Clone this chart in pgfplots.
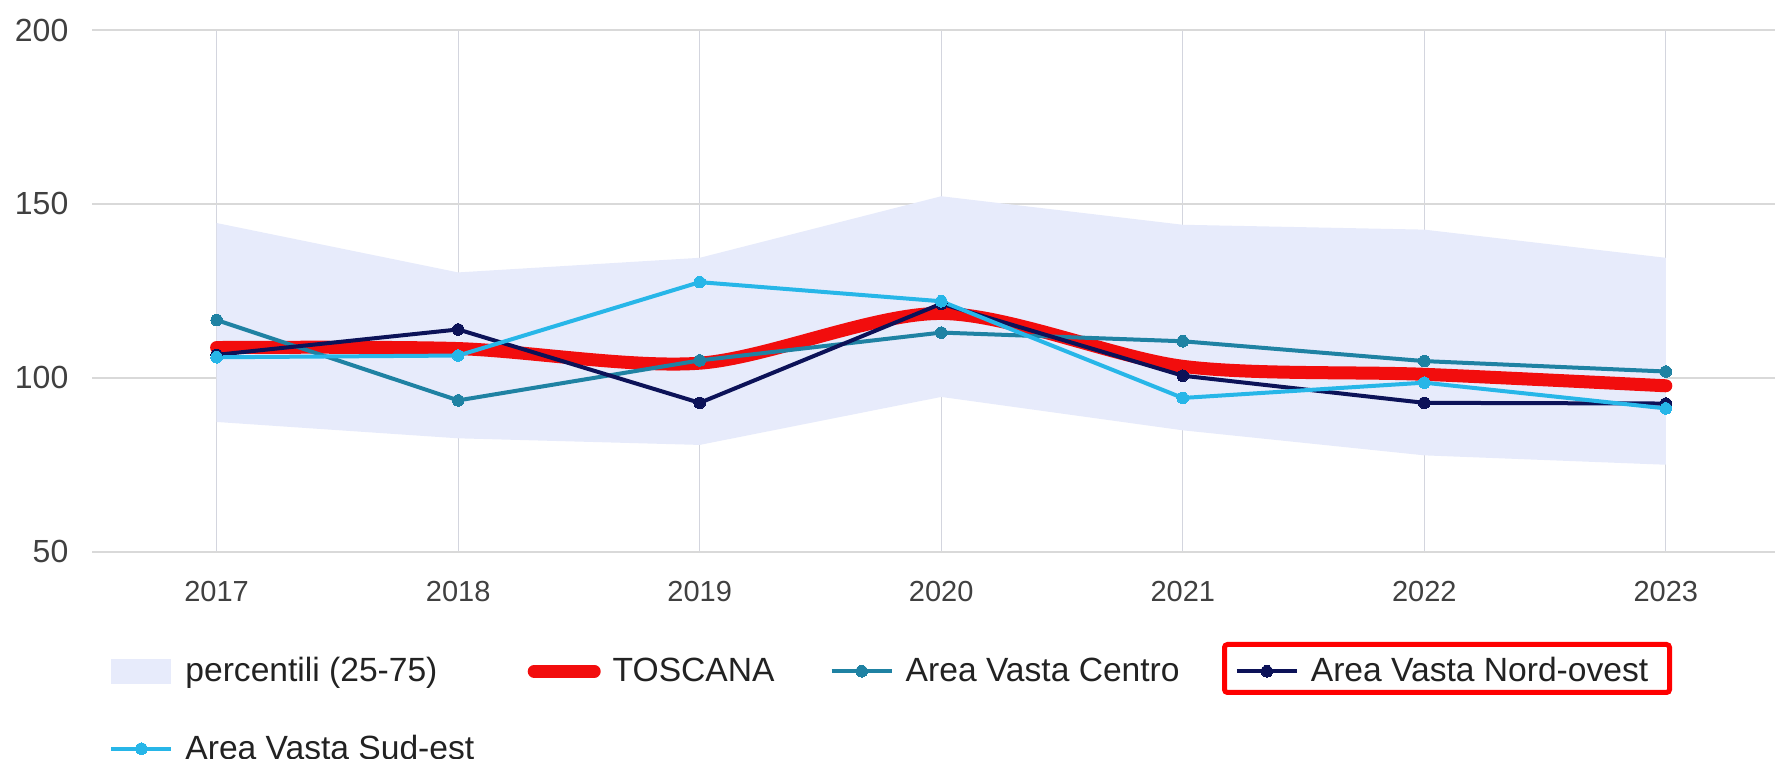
\documentclass[border=0pt]{standalone}
\usepackage{fontspec}
\setmainfont{Liberation Sans}
\usepackage{pgfplots}
\pgfplotsset{compat=1.18}
\definecolor{bandc}{HTML}{E7EBFB}
\definecolor{toscana}{HTML}{F20D0D}
\definecolor{centro}{HTML}{1F82A3}
\definecolor{nordovest}{HTML}{0C1258}
\definecolor{sudest}{HTML}{27B6E8}
\definecolor{gridc}{HTML}{D9D9D9}
\definecolor{vgridc}{HTML}{D3D5DE}
\definecolor{ticktext}{HTML}{404040}
\definecolor{legtext}{HTML}{222222}
\pgfplotsset{
  ptleg/.style={legend image code/.code={\draw[mark repeat=2, mark phase=2, ##1] plot coordinates {(0pt,0pt) (15pt,0pt) (30pt,0pt)};}},
}
\begin{document}
\begin{tikzpicture}
\begin{axis}[
  at={(46pt,103.65pt)}, anchor=south west,
  scale only axis, width=841.5pt, height=260.85pt,
  xmin=-0.516, xmax=6.452, ymin=50, ymax=200,
  axis line style={draw=none},
  major tick length=0pt,
  xtick={0,1,2,3,4,5,6},
  xticklabels={2017,2018,2019,2020,2021,2022,2023},
  ytick={50,100,150,200},
  /pgf/number format/assume math mode=true,
  xticklabel style={font=\fontsize{14.5}{17}\selectfont, text=ticktext, yshift=-11.3pt},
  yticklabel style={font=\fontsize{16}{19}\selectfont, text=ticktext, xshift=-8.3pt},
  xmajorgrids, ymajorgrids,
  x grid style={vgridc, line width=0.6pt},
  y grid style={gridc, line width=0.9pt},
  clip=false,
  legend columns=4,
  legend cell align=left,
  legend style={
    at={(axis description cs:0.0101,-0.1946)}, anchor=north west,
    draw=none, fill=none, inner sep=0pt,
    font=\fontsize{16.8}{19}\selectfont, text=legtext,
    column sep=0pt, row sep=21pt,
    cells={anchor=west},
    /tikz/every odd column/.append style={column sep=4pt},
    /tikz/every even column/.append style={column sep=25.6pt},
  },
]
% percentili band (25-75)
\addplot[fill=bandc, draw=none,
  legend image code/.code={\fill[bandc] (0pt,-6.25pt) rectangle (30pt,6.25pt);}]
  coordinates {(0,144.5) (1,130.3) (2,134.5) (3,152.2) (4,144.0) (5,142.6) (6,134.5)
               (6,75.0) (5,77.7) (4,84.9) (3,94.5) (2,80.7) (1,82.6) (0,87.3)} -- cycle;
\addlegendentry{percentili (25-75)\rule{17.5pt}{0pt}}
% TOSCANA
\addplot[toscana, line width=6.5pt, smooth, mark=none, line cap=round, line join=round,
  legend image code/.code={\draw[toscana, line width=6.5pt] (0pt,0pt) -- (30pt,0pt);}]
  coordinates {(0,108.7) (1,108.4) (2,104.2) (3,118.5) (4,103.3) (5,101.0) (6,97.7)};
\addlegendentry{TOSCANA}
% Area Vasta Centro
\addplot[centro, line width=2pt, mark=*, mark size=2.9pt, mark options={fill=centro, draw=centro, line width=0pt}, ptleg]
  coordinates {(0,116.6) (1,93.5) (2,105.0) (3,113.0) (4,110.5) (5,104.8) (6,101.8)};
\addlegendentry{Area Vasta Centro}
% Area Vasta Nord-ovest
\addplot[nordovest, line width=2pt, mark=*, mark size=2.9pt, mark options={fill=nordovest, draw=nordovest, line width=0pt}, ptleg]
  coordinates {(0,106.6) (1,113.9) (2,92.8) (3,121.3) (4,100.6) (5,92.8) (6,92.6)};
\addlegendentry{Area Vasta Nord-ovest}
% Area Vasta Sud-est
\addplot[sudest, line width=2pt, mark=*, mark size=2.9pt, mark options={fill=sudest, draw=sudest, line width=0pt}, ptleg]
  coordinates {(0,105.9) (1,106.4) (2,127.5) (3,122.0) (4,94.2) (5,98.6) (6,91.2)};
\addlegendentry{\makebox[0pt][l]{Area Vasta Sud-est}}
\end{axis}
\draw[red, line width=2.5pt, rounded corners=1.5pt] (612.25pt,33.25pt) rectangle (834.75pt,57.25pt);
\pgfresetboundingbox
\path (0pt,0pt) rectangle (887.5pt,379.5pt);
\end{tikzpicture}
\end{document}
